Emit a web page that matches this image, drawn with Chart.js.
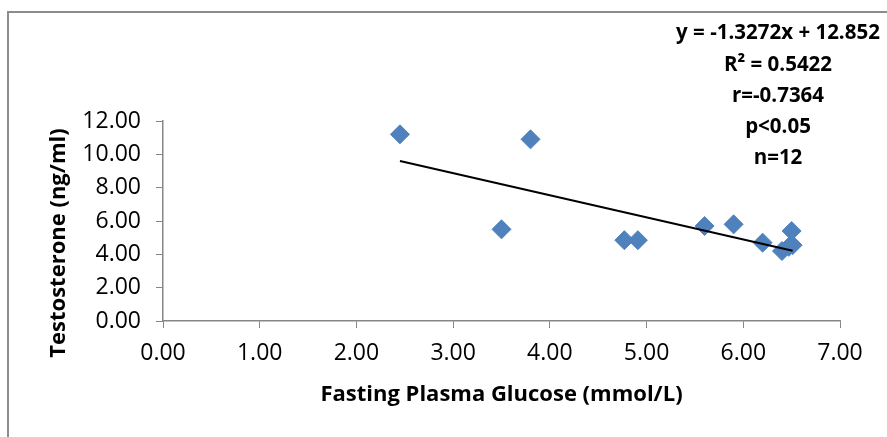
<!DOCTYPE html>
<html>
<head>
<meta charset="utf-8">
<script src="https://cdn.jsdelivr.net/npm/chart.js@4.4.1/dist/chart.umd.min.js"></script>
<style>
  body { margin: 0; background: #fff; }
  #wrap { position: relative; width: 887px; height: 437px; }
  #frame { position: absolute; left: 7px; top: 11px; right: 0; bottom: 0;
           border-top: 2px solid #8c8c8c; border-left: 2px solid #8c8c8c; }
  canvas { position: absolute; left: 0; top: 0; }
</style>
</head>
<body>
<div id="wrap">
  <div id="frame"></div>
  <canvas id="chart" width="887" height="437"></canvas>
</div>
<script>
// values
const glucose = [2.45, 3.50, 3.80, 4.77, 4.91, 5.60, 5.90, 6.20, 6.40, 6.51, 6.50, 6.47];
const testosterone = [11.20, 5.50, 10.90, 4.85, 4.85, 5.70, 5.80, 4.70, 4.20, 4.55, 5.40, 4.45];
const slope = -1.3272;
const intercept = 12.852;
const trendRange = [2.45, 6.51];
const statLines = ['y = -1.3272x + 12.852', 'R\u00b2 = 0.5422', 'r=-0.7364', 'p<0.05', 'n=12'];
const xTitle = 'Fasting Plasma Glucose (mmol/L)';
const yTitle = 'Testosterone (ng/ml)';

const axisGrey = '#868686';
const tickFont = { family: 'Open Sans', size: 23 };

const points = glucose.map((g, i) => ({ x: g, y: testosterone[i] }));
const trend = trendRange.map(x => ({ x: x, y: slope * x + intercept }));

const extraText = {
  id: 'extraText',
  afterDraw(chart) {
    const ctx = chart.ctx;
    ctx.save();
    ctx.fillStyle = '#000';
    ctx.font = 'bold 20.5px "Open Sans"';
    ctx.textAlign = 'center';
    ctx.textBaseline = 'middle';
    const ys = [33, 65, 96, 127, 158];
    statLines.forEach((t, i) => ctx.fillText(t, 778, ys[i]));

    // y axis title
    ctx.font = 'bold 22px "Open Sans"';
    ctx.translate(59, 243);
    ctx.rotate(-Math.PI / 2);
    ctx.fillText(yTitle, 0, 0);
    ctx.restore();
  }
};

new Chart(document.getElementById('chart'), {
  type: 'scatter',
  data: {
    datasets: [{
      label: 'Testosterone',
      data: points,
      pointStyle: 'rectRot',
      pointRadius: 9.5,
      pointHoverRadius: 9.5,
      backgroundColor: '#4F81BD',
      borderColor: '#4F81BD',
      borderWidth: 1,
      order: 2
    }, {
      type: 'line',
      label: 'Linear',
      data: trend,
      borderColor: '#000',
      borderWidth: 2,
      pointRadius: 0,
      fill: false,
      order: 1
    }]
  },
  options: {
    responsive: false,
    animation: false,
    layout: { padding: { top: 121, right: 47, left: 0, bottom: 25 } },
    plugins: { legend: { display: false }, tooltip: { enabled: false } },
    scales: {
      x: {
        type: 'linear',
        min: 0,
        max: 7,
        ticks: { stepSize: 1, color: '#000', font: tickFont, padding: 12,
                 callback: v => v.toFixed(2) },
        grid: { drawOnChartArea: false, drawTicks: true, tickLength: 7, color: axisGrey },
        border: { color: axisGrey, width: 1.5 },
        title: { display: true, text: xTitle, color: '#000',
                 font: { family: 'Open Sans', size: 22, weight: 'bold' }, padding: { top: 4, bottom: 4 } },
        afterFit(scale) { scale.height = 91; }
      },
      y: {
        min: 0,
        max: 12,
        ticks: { stepSize: 2, color: '#000', font: tickFont, padding: 15,
                 callback: v => v.toFixed(2) },
        grid: { drawOnChartArea: false, drawTicks: true, tickLength: 7, color: axisGrey },
        border: { color: axisGrey, width: 1.5 },
        afterFit(scale) { scale.width = 163; }
      }
    }
  },
  plugins: [extraText]
});
</script>
</body>
</html>
